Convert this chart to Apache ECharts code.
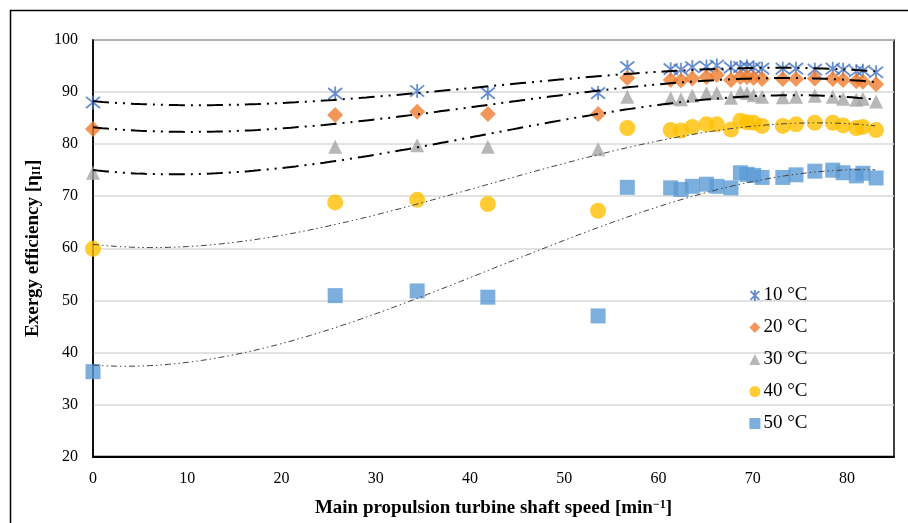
<!DOCTYPE html>
<html>
<head>
<meta charset="utf-8">
<script src="https://cdn.jsdelivr.net/npm/echarts@6/dist/echarts.min.js"></script>
<style>
  html, body { margin: 0; padding: 0; background: #fff; }
  #chart { width: 908px; height: 523px; }
</style>
</head>
<body>
<div id="chart"></div>
<script>
// shaft speed [min^-1]
const speeds = [0, 25.7, 34.4, 41.9, 53.6, 56.7, 61.3, 62.4, 63.6, 65.1, 66.2, 67.7,
  68.7, 69.4, 70.1, 71.0, 73.2, 74.6, 76.6, 78.5, 79.6, 81.0, 81.7, 83.1]

const eff10 = [88.0, 89.7, 90.2, 89.8, 89.8, 94.8, 94.4, 94.3, 94.8, 94.9, 95.1, 94.7,
  94.8, 94.9, 94.7, 94.5, 94.5, 94.5, 94.3, 94.5, 94.3, 94.0, 94.1, 93.8]
const eff20 = [82.9, 85.6, 86.2, 85.8, 85.8, 92.7, 92.3, 92.2, 92.6, 92.9, 93.3, 92.3,
  92.9, 92.9, 92.7, 92.5, 92.5, 92.5, 92.6, 92.5, 92.3, 92.1, 92.0, 91.5]
const eff30 = [74.5, 79.5, 79.8, 79.5, 79.0, 89.1, 88.8, 88.6, 89.3, 89.8, 89.8, 88.9,
  90.0, 89.8, 89.4, 89.1, 89.0, 89.1, 89.3, 89.1, 88.7, 88.5, 88.7, 88.2]
const eff40 = [59.9, 68.8, 69.3, 68.5, 67.2, 83.1, 82.7, 82.6, 83.3, 83.8, 83.8, 82.8,
  84.5, 84.2, 84.1, 83.5, 83.5, 83.8, 84.1, 84.1, 83.6, 83.1, 83.3, 82.7]
const eff50 = [36.3, 50.9, 51.8, 50.6, 47.0, 71.7, 71.6, 71.3, 71.9, 72.3, 71.9, 71.6,
  74.5, 74.2, 74.0, 73.6, 73.6, 74.1, 74.8, 75.0, 74.5, 73.9, 74.4, 73.5]

const seriesNames = ['10 °C', '20 °C', '30 °C', '40 °C', '50 °C']
const xTicks = [0, 10, 20, 30, 40, 50, 60, 70, 80]
const yTicks = [20, 30, 40, 50, 60, 70, 80, 90, 100]

const STAR = 'path://M1,1L9,9M9,1L1,9M5,0L5,10'

// 3rd order polynomial trendline (least squares), like excel does it
function cubicFit(xs, ys) {
  const n = 4
  let A = [], B = []
  for (let i = 0; i < n; i++) {
    A.push([0, 0, 0, 0])
    B.push(0)
  }
  xs.forEach((xv, k) => {
    const t = xv / 100
    const p = [1, t, t * t, t * t * t]
    for (let i = 0; i < n; i++) {
      for (let j = 0; j < n; j++) A[i][j] += p[i] * p[j]
      B[i] += p[i] * ys[k]
    }
  })
  // gauss elimination
  for (let i = 0; i < n; i++) {
    let piv = i
    for (let r = i + 1; r < n; r++) if (Math.abs(A[r][i]) > Math.abs(A[piv][i])) piv = r
    ;[A[i], A[piv]] = [A[piv], A[i]]
    ;[B[i], B[piv]] = [B[piv], B[i]]
    for (let r = i + 1; r < n; r++) {
      const f = A[r][i] / A[i][i]
      for (let c = i; c < n; c++) A[r][c] -= f * A[i][c]
      B[r] -= f * B[i]
    }
  }
  const c = [0, 0, 0, 0]
  for (let i = n - 1; i >= 0; i--) {
    let s = B[i]
    for (let j = i + 1; j < n; j++) s -= A[i][j] * c[j]
    c[i] = s / A[i][i]
  }
  const out = []
  const xmax = xs[xs.length - 1]
  for (let xv = 0; xv <= xmax + 0.001; xv += 0.5) {
    const t = xv / 100
    out.push([xv, c[0] + c[1] * t + c[2] * t * t + c[3] * t * t * t])
  }
  return out
}

function pts(ys) {
  return speeds.map((s, i) => [s, ys[i]])
}

const allEff = [eff10, eff20, eff30, eff40, eff50]
const markers = [
  { symbol: STAR, size: 14, itemStyle: { color: 'none', borderColor: '#4472C4', borderWidth: 1.8 } },
  { symbol: 'diamond', size: 16, itemStyle: { color: '#ED7D31' } },
  { symbol: 'triangle', size: 14, itemStyle: { color: '#A5A5A5' } },
  { symbol: 'circle', size: 16, itemStyle: { color: '#FFC000' } },
  { symbol: 'rect', size: 15, itemStyle: { color: '#5B9BD5' } }
]

const scatterSeries = allEff.map((ys, i) => ({
  name: seriesNames[i],
  type: 'scatter',
  data: pts(ys),
  symbol: markers[i].symbol,
  symbolSize: markers[i].size,
  itemStyle: markers[i].itemStyle,
  z: 2
}))

const trendSeries = allEff.map((ys, i) => ({
  name: 'trend' + i,
  type: 'line',
  data: cubicFit(speeds, ys),
  showSymbol: false,
  silent: true,
  lineStyle: i < 3
    ? { color: '#000', width: 2, type: [16, 6, 2, 6, 2, 6] }
    : { color: '#404040', width: 1, type: [6, 3, 1.5, 3, 1.5, 3] },
  z: 3
}))

const serif = 'Liberation Serif, Times New Roman, serif'

const option = {
  animation: false,
  backgroundColor: '#fff',
  graphic: [{
    type: 'rect',
    shape: { x: 10.5, y: 10.5, width: 1000, height: 1000 },
    style: { fill: 'none', stroke: '#000', lineWidth: 1.5 },
    silent: true
  }],
  grid: {
    left: 93, top: 40, right: 14, bottom: 66,
    show: true, borderColor: '#000', borderWidth: 1.5
  },
  legend: {
    orient: 'vertical',
    left: 743,
    top: 281,
    itemGap: 13,
    itemWidth: 11,
    itemHeight: 11,
    textStyle: { fontFamily: serif, fontSize: 19, color: '#000', padding: [0, 0, 0, -2] },
    data: seriesNames.map((n, i) => ({ name: n, icon: markers[i].symbol }))
  },
  xAxis: {
    type: 'value',
    min: 0,
    max: 85,
    interval: 10,
    name: '{b|Main propulsion turbine shaft speed [min}{s|−1}{b|]}',
    nameLocation: 'middle',
    nameGap: 42,
    nameTextStyle: {
      rich: {
        b: { fontFamily: serif, fontWeight: 'bold', fontSize: 19, color: '#000' },
        s: { fontFamily: serif, fontWeight: 'bold', fontSize: 12, color: '#000', verticalAlign: 'top', padding: [0, 0, 8, 0] }
      }
    },
    axisLine: { lineStyle: { color: '#000', width: 2 } },
    axisTick: { show: false },
    splitLine: { show: false },
    axisLabel: {
      fontFamily: serif, fontSize: 16, color: '#000', margin: 14,
      showMaxLabel: false,
      formatter: v => xTicks.includes(v) ? String(v) : ''
    }
  },
  yAxis: {
    type: 'value',
    min: 20,
    max: 100,
    interval: 10,
    name: '{b|Exergy efficiency [η}{s|II}{b|]}',
    nameLocation: 'middle',
    nameGap: 50,
    nameTextStyle: {
      rich: {
        b: { fontFamily: serif, fontWeight: 'bold', fontSize: 19, color: '#000' },
        s: { fontFamily: serif, fontWeight: 'bold', fontSize: 12, color: '#000', padding: [8, 0, 0, 0] }
      }
    },
    axisLine: { show: true, lineStyle: { color: '#000', width: 1.5 } },
    axisTick: { show: false },
    splitLine: { lineStyle: { color: '#D9D9D9', width: 1.5 } },
    axisLabel: {
      fontFamily: serif, fontSize: 16, color: '#000', margin: 15,
      formatter: v => yTicks.includes(v) ? String(v) : ''
    }
  },
  series: scatterSeries.concat(trendSeries)
}

const myChart = echarts.init(document.getElementById('chart'))
myChart.setOption(option)
</script>
</body>
</html>
